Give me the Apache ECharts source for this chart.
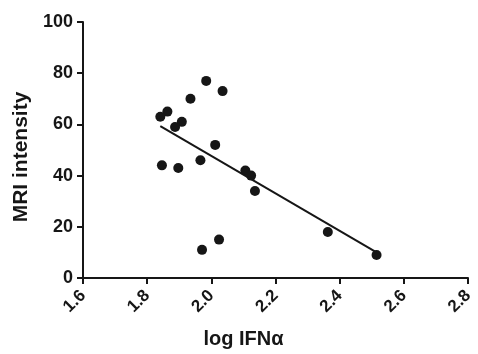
<!DOCTYPE html>
<html>
<head>
<meta charset="utf-8">
<script src="https://cdn.jsdelivr.net/npm/echarts@6/dist/echarts.min.js"></script>
<style>
  html, body { margin: 0; padding: 0; background: #fff; }
  #chart { width: 478px; height: 354px; }
</style>
</head>
<body>
<div id="chart"></div>
<script>
// log IFNα vs MRI intensity
const logIfn = [1.984, 2.035, 1.935, 1.863, 1.841, 1.908, 1.887, 2.012, 1.966,
  1.846, 1.897, 2.106, 2.124, 2.136, 2.024, 1.971, 2.363, 2.515];
const mri = [77, 73, 70, 65, 63, 61, 59, 52, 46,
  44, 43, 42, 40, 34, 15, 11, 18, 9];

// fitted line end points
const fitX = [1.841, 2.515];
const fitY = [59.3, 10];

const xTicks = [1.6, 1.8, 2.0, 2.2, 2.4, 2.6, 2.8];

const ch = echarts.init(document.getElementById("chart"));
const ink = "#161616";
const font = "Liberation Sans, Arial, sans-serif";

ch.setOption({
  animation: false,
  backgroundColor: "#fff",
  grid: { left: 83, right: 10, top: 22, bottom: 75 },
  xAxis: {
    type: "value",
    min: 1.6,
    max: 2.8,
    interval: 0.2,
    name: "log IFNα",
    nameLocation: "middle",
    nameGap: 51,
    nameTextStyle: {
      color: ink, fontFamily: font, fontSize: 20, fontWeight: "bold",
      padding: [0, 64, 0, 0],
    },
    axisLine: { lineStyle: { color: ink, width: 2 } },
    axisTick: { length: 6, lineStyle: { color: ink, width: 2 } },
    axisLabel: {
      color: ink, fontFamily: font, fontSize: 17, fontWeight: "bold",
      rotate: 45, margin: 15,
      formatter: (v) => {
        const t = xTicks.find((k) => Math.abs(k - v) < 1e-6);
        return t === undefined ? "" : t.toFixed(1);
      },
    },
    splitLine: { show: false },
  },
  yAxis: {
    type: "value",
    min: 0,
    max: 100,
    interval: 20,
    name: "MRI intensity",
    nameLocation: "middle",
    nameGap: 48,
    nameTextStyle: {
      color: ink, fontFamily: font, fontSize: 21, fontWeight: "bold",
      padding: [0, 14, 0, 0],
    },
    axisLine: { show: true, lineStyle: { color: ink, width: 2 } },
    axisTick: { show: true, length: 6, lineStyle: { color: ink, width: 2 } },
    axisLabel: { color: ink, fontFamily: font, fontSize: 18, fontWeight: "bold", margin: 10 },
    splitLine: { show: false },
  },
  series: [
    {
      type: "scatter",
      data: logIfn.map((x, i) => [x, mri[i]]),
      symbol: "circle",
      symbolSize: 10,
      itemStyle: { color: ink, opacity: 1 },
    },
    {
      type: "line",
      data: fitX.map((x, i) => [x, fitY[i]]),
      symbol: "none",
      lineStyle: { color: ink, width: 2 },
    },
  ],
});
</script>
</body>
</html>
